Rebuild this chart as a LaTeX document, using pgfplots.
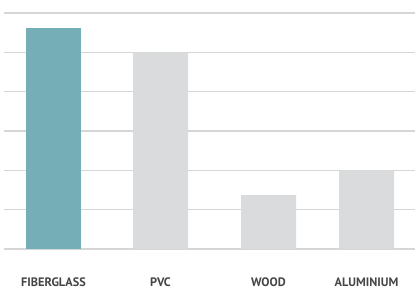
\documentclass[border=0pt]{standalone}
\usepackage{pgfplots}
\pgfplotsset{compat=1.18}
\usepackage{fontspec}
\setmainfont{PT Sans}
\definecolor{teal1}{HTML}{76AEB8}
\definecolor{gray1}{HTML}{DADBDC}
\definecolor{gridc}{HTML}{D6D6D6}
\definecolor{txt}{HTML}{454545}
\begin{document}
\begin{tikzpicture}
\useasboundingbox (-4bp,-40bp) rectangle (412bp,249bp);
\begin{axis}[
  at={(0,0)}, anchor=south west,
  scale only axis, width=411bp, height=236bp,
  xmin=4, xmax=415, ymin=0, ymax=6,
  axis line style={draw=none},
  ytick={0,1,2,3,4,5,6}, yticklabels={},
  major tick length=0pt,
  ymajorgrids, grid style={gridc, line width=1.1bp},
  xtick={53.5,160.5,268.5,366.5},
  xticklabels={FIBERGLASS,PVC,WOOD,ALUMINIUM},
  xticklabel style={font=\bfseries\fontsize{12.3}{13}\selectfont, text=txt, anchor=north, inner sep=0pt, yshift=-29bp},
  ybar, bar width=55bp, bar shift=0pt,
  clip=false,
]
\addplot[fill=teal1, draw=none] coordinates {(53.5,5.62)};
\addplot[fill=gray1, draw=none] coordinates {(160.5,5.0) (268.5,1.37) (366.5,2.0)};
\end{axis}
\end{tikzpicture}
\end{document}
